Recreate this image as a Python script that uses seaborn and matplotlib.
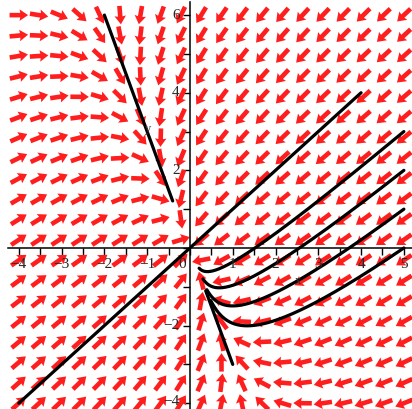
import numpy as np
import pandas as pd
import seaborn as sns
import matplotlib
matplotlib.use("Agg")
import matplotlib.pyplot as plt

# linear system  x' = -4x - y,  y' = -3x - 2y
coef_dx = [-4.0, -1.0]
coef_dy = [-3.0, -2.0]

# direction field grid (20 x 20)
field_x = np.linspace(-4, 5, 20)
field_y = np.linspace(-4, 6, 20)

# trajectories: starting points and time spans
start_x = [4, -4, 5, 5, 5, 5, 1, -2]
start_y = [4, -4, 3, 2, 1, 0, -3, 6]
t_end = [1, 1, 1, 1, 1, 1, 1, 1.6]

x_labels = [-4, -3, -2, -1, 0, 1, 2, 3, 4, 5]
y_labels = [-4, -2, 2, 4, 6]

xmin, xmax = -4.44, 5.19
ymin, ymax = -4.15, 6.39

sns.set_theme(style="white")
plt.rcParams["font.family"] = ["Liberation Serif", "DejaVu Serif"]

fig = plt.figure(figsize=(4.12, 4.09), dpi=100)
ax = fig.add_axes([0, 0, 1, 1])
ax.set_xlim(xmin, xmax)
ax.set_ylim(ymin, ymax)

# direction field
A = np.array([coef_dx, coef_dy])
X, Y = np.meshgrid(field_x, field_y)
U = A[0, 0] * X + A[0, 1] * Y
V = A[1, 0] * X + A[1, 1] * Y
px_x = 412 / (xmax - xmin)
px_y = 409 / (ymax - ymin)
su, sv = U * px_x, V * px_y
norm = np.hypot(su, sv)
norm[norm == 0] = 1
ax.quiver(X, Y, su / norm, sv / norm, angles="uv", pivot="middle",
          units="dots", scale_units="dots", scale=1 / 18.5,
          width=4.6, headwidth=2.5, headlength=1.85, headaxislength=1.7,
          color="#ff1e1e", zorder=2)

# trajectories
w, vecs = np.linalg.eig(A)
rows = []
for i, (x0, y0, T) in enumerate(zip(start_x, start_y, t_end)):
    c = np.linalg.solve(vecs, np.array([x0, y0], float))
    t = np.linspace(0, T, 400)
    pts = (vecs @ (c[:, None] * np.exp(w[:, None] * t))).T.real
    for px, py in pts:
        rows.append({"x": px, "y": py, "curve": i})
df = pd.DataFrame(rows)
sns.lineplot(data=df, x="x", y="y", units="curve", estimator=None, sort=False,
             color="black", lw=2.3, ax=ax, legend=False, zorder=4)
ax.set_xlabel("")
ax.set_ylabel("")

# axes through origin
for s in ["top", "right"]:
    ax.spines[s].set_visible(False)
ax.spines["left"].set_position(("data", 0))
ax.spines["bottom"].set_position(("data", 0))
ax.spines["bottom"].set_bounds(-4.26, xmax)
ax.spines["left"].set_bounds(ymin, 6.33)
for s in ["left", "bottom"]:
    ax.spines[s].set_color("black")
    ax.spines[s].set_linewidth(1.1)
    ax.spines[s].set_zorder(3)
ax.set_xticks(np.arange(-4, 5.01, 0.5))
ax.set_yticks(np.arange(-4, 6.01, 1))
ax.set_xticklabels([])
ax.set_yticklabels([])
ax.tick_params(direction="out", length=5, width=1, color="black",
               bottom=True, left=True)

for v in x_labels:
    xp = -0.19 if v == 0 else v
    ax.text(xp, -0.42, "\u2212%d" % -v if v < 0 else str(v), ha="center",
            va="center", fontsize=11, zorder=5)
for v in y_labels:
    yp = v + 0.04 if v == -4 else v
    ax.text(-0.24, yp, "\u2212%d" % -v if v < 0 else str(v), ha="right",
            va="center", fontsize=11, zorder=5)

ax.text(2.52, -0.85, "x", ha="center", va="center", fontsize=9, color="#333333", zorder=5)
ax.text(-0.98, 3.07, "y", ha="center", va="center", fontsize=9, color="#333333", zorder=5)

fig.savefig("out.png", dpi=100)
